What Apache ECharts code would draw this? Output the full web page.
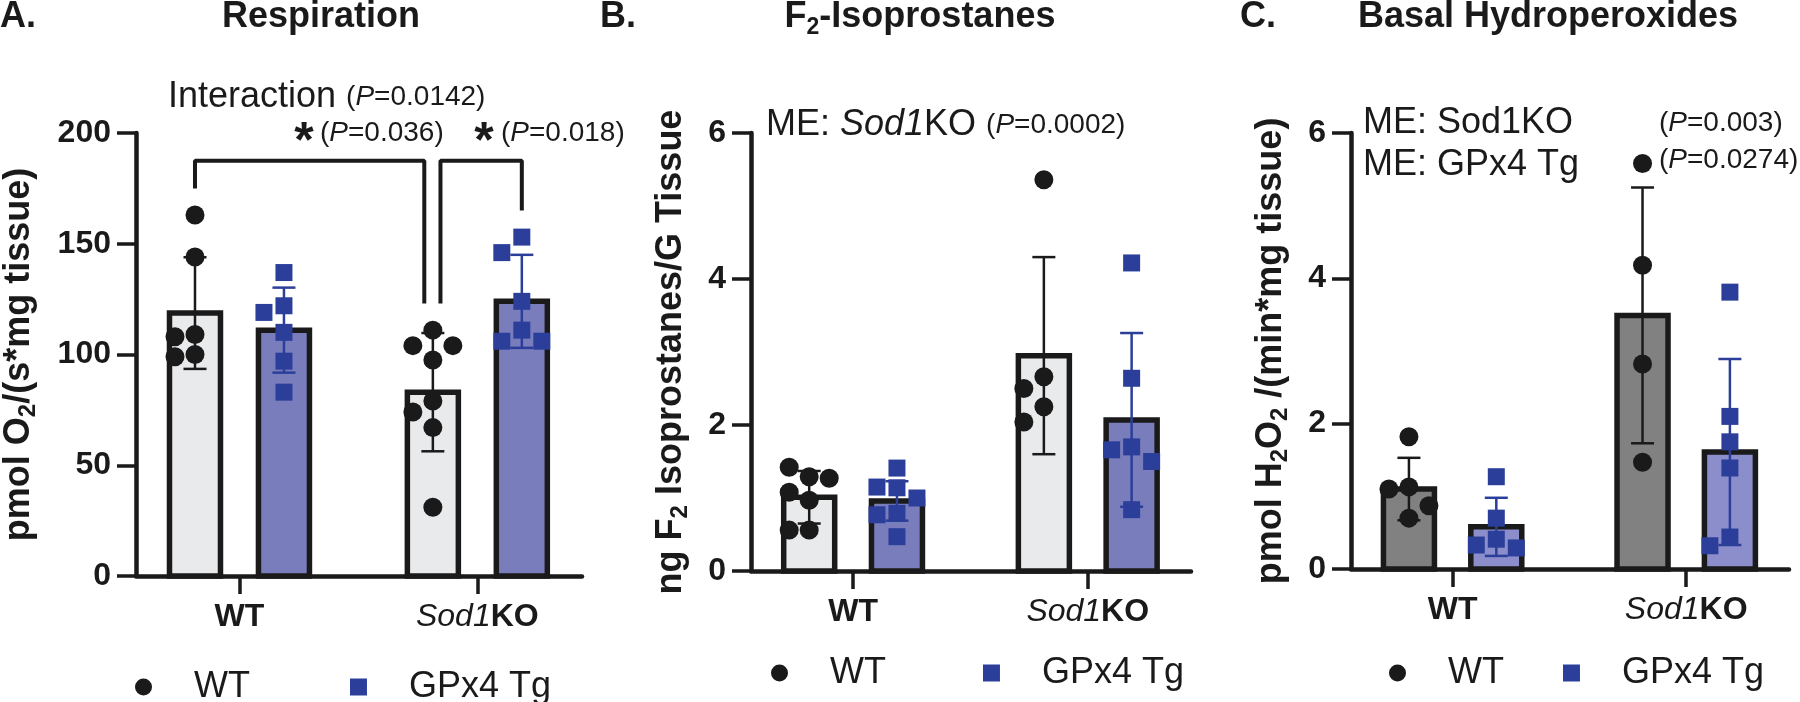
<!DOCTYPE html>
<html>
<head>
<meta charset="utf-8">
<script src="https://cdn.jsdelivr.net/npm/echarts@6/dist/echarts.min.js"></script>
<style>
  html, body { margin: 0; padding: 0; background: #fff; }
  #chart { width: 1800px; height: 702px; }
</style>
</head>
<body>
<div id="chart"></div>
<script>
// ---- data ----
var groups = ['WT', 'Sod1KO'];
var seriesNames = ['WT', 'GPx4 Tg'];

// A. Respiration, pmol O2/(s*mg tissue)
var respWtMean = [118.7, 83.0];
var respWtSd = [25.2, 26.7];
var respTgMean = [111.0, 124.0];
var respTgSd = [19.2, 21.0];
var respWtPts = [[163, 144, 109, 108, 100, 99], [111, 104, 104, 97.5, 79, 74, 67, 31]];
var respTgPts = [[137, 122, 119, 110, 97, 83], [153, 146, 124, 111, 106, 106]];

// B. F2-Isoprostanes, ng/G tissue
var isoWtMean = [1.01, 2.95];
var isoWtSd = [0.36, 1.35];
var isoTgMean = [0.96, 2.07];
var isoTgSd = [0.27, 1.19];
var isoWtPts = [[1.29, 1.42, 1.27, 1.08, 0.97, 0.56, 0.56], [5.36, 2.66, 2.5, 2.25, 2.04]];
var isoTgPts = [[1.41, 1.15, 1.14, 1.0, 0.79, 0.77, 0.47], [4.22, 2.64, 1.7, 1.66, 1.5, 0.84]];

// C. Basal hydroperoxides, pmol H2O2/(min*mg tissue)
var hpWtMean = [1.10, 3.49];
var hpWtSd = [0.43, 1.76];
var hpTgMean = [0.58, 1.61];
var hpTgSd = [0.40, 1.28];
var hpWtPts = [[1.82, 1.13, 1.1, 0.87, 0.7], [5.58, 4.18, 2.82, 1.47]];
var hpTgPts = [[1.27, 0.7, 0.41, 0.33, 0.29], [3.81, 2.1, 1.75, 1.39, 0.44, 0.32]];

// ---- layout / style ----
var FONT = '"Liberation Sans", Arial, Helvetica, sans-serif';
var INK = '#1a1a1a';
var BLUE = '#2b3f9a';
var X_MIN = -0.435, X_MAX = 1.44;
var BAR_OFF = 0.187;      // bar centre offset from category centre
var BAR_W = 51;           // inner bar width (border adds ~6)
var STEP_PX = 20;         // horizontal spread of points
var MIN_DIST = 19;

var panels = [{
    grid: { left: 136, top: 133, width: 446, height: 443 },
    yMax: 200, interval: 50,
    wtMean: respWtMean, wtSd: respWtSd, tgMean: respTgMean, tgSd: respTgSd,
    wtPts: respWtPts, tgPts: respTgPts,
    wtFill: '#e9eaec', tgFill: '#7a7dbc',
    name: '{b|pmol O}{sub|2}{b|/(s*mg tissue)}', nameGap: 96,
    legend: { left: 130, top: 664, gap: 100 }
}, {
    grid: { left: 751, top: 133, width: 440, height: 438 },
    yMax: 6, interval: 2,
    wtMean: isoWtMean, wtSd: isoWtSd, tgMean: isoTgMean, tgSd: isoTgSd,
    wtPts: isoWtPts, tgPts: isoTgPts,
    wtFill: '#e9eaec', tgFill: '#7a7dbc',
    name: '{b|ng F}{sub|2}{b| Isoprostanes/G Tissue}', nameGap: 59,
    legend: { left: 766, top: 650, gap: 97 }
}, {
    grid: { left: 1351, top: 133, width: 438, height: 436 },
    yMax: 6, interval: 2,
    wtMean: hpWtMean, wtSd: hpWtSd, tgMean: hpTgMean, tgSd: hpTgSd,
    wtPts: hpWtPts, tgPts: hpTgPts,
    wtFill: '#808180', tgFill: '#8b8ecb',
    name: '{b|pmol H}{sub|2}{b|O}{sub|2}{b| /(min*mg tissue)}', nameGap: 59,
    legend: { left: 1384, top: 650, gap: 59 }
}];

// simple beeswarm: spread points that would overlap at the same height
function swarm(vals, pxPerUnit) {
    var placed = [];
    return vals.map(function (v) {
        var slots = [0, -1, 1, -2, 2, -3, 3], s = 0;
        for (var k = 0; k < slots.length; k++) {
            s = slots[k];
            var ok = placed.every(function (p) {
                var dx = (s - p.s) * STEP_PX, dy = (v - p.v) * pxPerUnit;
                return Math.sqrt(dx * dx + dy * dy) >= MIN_DIST;
            });
            if (ok) break;
        }
        placed.push({ v: v, s: s });
        return s;
    });
}

function pointData(pts, off, p) {
    var pxY = p.grid.height / p.yMax;
    var pxX = p.grid.width / (X_MAX - X_MIN);
    var out = [];
    pts.forEach(function (vals, ci) {
        swarm(vals, pxY).forEach(function (s, j) {
            out.push([ci + off + s * STEP_PX / pxX, vals[j]]);
        });
    });
    return out;
}

function barRenderer(off, fill, errColor) {
    return function (params, api) {
        var x = api.value(0) + off;
        var m = api.value(1), sd = api.value(2);
        var top = api.coord([x, m]);
        var base = api.coord([x, 0]);
        var hi = api.coord([x, m + sd]);
        var lo = api.coord([x, Math.max(m - sd, 0)]);
        var cx = top[0];
        return {
            type: 'group',
            children: [{
                type: 'rect',
                shape: { x: cx - BAR_W / 2, y: top[1], width: BAR_W, height: base[1] - top[1] },
                style: { fill: fill, stroke: INK, lineWidth: 5.5 }
            }, {
                type: 'line',
                shape: { x1: cx, y1: hi[1], x2: cx, y2: lo[1] },
                style: { stroke: errColor, lineWidth: 2.5 }
            }, {
                type: 'line',
                shape: { x1: cx - 11.5, y1: hi[1], x2: cx + 11.5, y2: hi[1] },
                style: { stroke: errColor, lineWidth: 2.5 }
            }, {
                type: 'line',
                shape: { x1: cx - 11.5, y1: lo[1], x2: cx + 11.5, y2: lo[1] },
                style: { stroke: errColor, lineWidth: 2.5 }
            }]
        };
    };
}

var grids = [], xAxes = [], yAxes = [], series = [], legends = [];

panels.forEach(function (p, i) {
    grids.push(p.grid);
    xAxes.push({
        type: 'value', gridIndex: i, min: X_MIN, max: X_MAX,
        splitLine: { show: false },
        axisLine: { onZero: false, lineStyle: { color: INK, width: 4.5 } },
        axisTick: { show: true, customValues: [0, 1], length: 18, lineStyle: { color: INK, width: 3.5 } },
        axisLabel: {
            customValues: [0, 1], margin: 25,
            formatter: function (v) { return v === 0 ? '{b|WT}' : '{i|Sod1}{b|KO}'; },
            rich: {
                b: { fontFamily: FONT, fontSize: 32, fontWeight: 'bold', color: INK },
                i: { fontFamily: FONT, fontSize: 32, fontStyle: 'italic', color: INK }
            }
        }
    });
    yAxes.push({
        type: 'value', gridIndex: i, min: 0, max: p.yMax, interval: p.interval,
        splitLine: { show: false },
        axisLine: { show: true, onZero: false, lineStyle: { color: INK, width: 4.5 } },
        axisTick: { show: true, length: 19, lineStyle: { color: INK, width: 3.5 } },
        axisLabel: { margin: 25, fontFamily: FONT, fontSize: 32, fontWeight: 'bold', color: INK },
        name: p.name, nameLocation: 'middle', nameRotate: 90, nameGap: p.nameGap,
        nameTextStyle: {
            rich: {
                b: { fontFamily: FONT, fontSize: 36, fontWeight: 'bold', color: INK, lineHeight: 42 },
                sub: { fontFamily: FONT, fontSize: 24, fontWeight: 'bold', color: INK, verticalAlign: 'bottom' }
            }
        }
    });

    var wtBars = groups.map(function (g, k) { return [k, p.wtMean[k], p.wtSd[k]]; });
    var tgBars = groups.map(function (g, k) { return [k, p.tgMean[k], p.tgSd[k]]; });
    series.push({
        type: 'custom', name: 'WT mean', xAxisIndex: i, yAxisIndex: i, z: 2, silent: true,
        renderItem: barRenderer(-BAR_OFF, p.wtFill, INK), data: wtBars
    }, {
        type: 'custom', name: 'GPx4 Tg mean', xAxisIndex: i, yAxisIndex: i, z: 2, silent: true,
        renderItem: barRenderer(BAR_OFF, p.tgFill, BLUE), data: tgBars
    }, {
        type: 'scatter', name: seriesNames[0], xAxisIndex: i, yAxisIndex: i, z: 3,
        symbol: 'circle', symbolSize: 19, itemStyle: { color: INK, opacity: 1 },
        data: pointData(p.wtPts, -BAR_OFF, p)
    }, {
        type: 'scatter', name: seriesNames[1], xAxisIndex: i, yAxisIndex: i, z: 3,
        symbol: 'rect', symbolSize: 17, itemStyle: { color: BLUE, opacity: 1 },
        data: pointData(p.tgPts, BAR_OFF, p)
    });

    legends.push({
        data: seriesNames, left: p.legend.left, top: p.legend.top, orient: 'horizontal',
        itemWidth: 17, itemHeight: 17, itemGap: p.legend.gap, selectedMode: false,
        textStyle: { fontFamily: FONT, fontSize: 36, color: INK, padding: [0, 0, 0, 37], lineHeight: 36 }
    });
});

// significance brackets in panel A, built from the bar positions and the tallest marks
var BR_TOP = 187.5, BR_PAD = 12;
function legBase(pts, mean, sd) { return Math.max(Math.max.apply(null, pts), mean + sd) + BR_PAD; }
var brackets = [
    [[-BAR_OFF, legBase(respWtPts[0], respWtMean[0], respWtSd[0])], [-BAR_OFF, BR_TOP],
     [1 - BAR_OFF - 0.036, BR_TOP], [1 - BAR_OFF - 0.036, legBase(respWtPts[1], respWtMean[1], respWtSd[1])]],
    [[1 - BAR_OFF + 0.032, legBase(respWtPts[1], respWtMean[1], respWtSd[1])], [1 - BAR_OFF + 0.032, BR_TOP],
     [1 + BAR_OFF, BR_TOP], [1 + BAR_OFF, legBase(respTgPts[1], respTgMean[1], respTgSd[1])]]
];
brackets.forEach(function (b) {
    series.push({
        type: 'line', name: 'bracket', xAxisIndex: 0, yAxisIndex: 0, z: 4, silent: true,
        symbol: 'none', data: b, lineStyle: { color: INK, width: 4 }
    });
});

// ---- text annotations ----
var rich = {
    r: { fill: INK, fontFamily: FONT, fontSize: 36 },
    ri: { fill: INK, fontFamily: FONT, fontSize: 36, fontStyle: 'italic' },
    s: { fill: INK, fontFamily: FONT, fontSize: 28 },
    si: { fill: INK, fontFamily: FONT, fontSize: 28, fontStyle: 'italic' },
    h: { fill: INK, fontFamily: FONT, fontSize: 36, fontWeight: 'bold', lineHeight: 44 },
    hs: { fill: INK, fontFamily: FONT, fontSize: 23, fontWeight: 'bold', verticalAlign: 'bottom' },
    ast: { fill: INK, fontFamily: FONT, fontSize: 50, fontWeight: 'bold' }
};
function txt(x, y, text, align) {
    return {
        type: 'text', x: x, y: y, silent: true,
        style: {
            text: text, rich: rich, fill: INK, font: '36px ' + FONT,
            align: align || 'left', verticalAlign: 'middle',
            textAlign: align || 'left', textVerticalAlign: 'middle'
        }
    };
}
var graphics = [
    txt(0, 17, '{h|A.}'),
    txt(321, 17, '{h|Respiration}', 'center'),
    txt(168, 97, '{r|Interaction }{s|(}{si|P}{s|=0.0142)}'),
    txt(304, 143, '{ast|*}', 'center'),
    txt(320, 133, '{s|(}{si|P}{s|=0.036)}'),
    txt(484, 143, '{ast|*}', 'center'),
    txt(501, 133, '{s|(}{si|P}{s|=0.018)}'),

    txt(600, 17, '{h|B.}'),
    txt(920, 17, '{h|F}{hs|2}{h|-Isoprostanes}', 'center'),
    txt(766, 125, '{r|ME: }{ri|Sod1}{r|KO }{s|(}{si|P}{s|=0.0002)}'),

    txt(1240, 17, '{h|C.}'),
    txt(1548, 17, '{h|Basal Hydroperoxides}', 'center'),
    txt(1363, 123, '{r|ME: Sod1KO}'),
    txt(1363, 165, '{r|ME: GPx4 Tg}'),
    txt(1659, 123, '{s|(}{si|P}{s|=0.003)}'),
    txt(1659, 160, '{s|(}{si|P}{s|=0.0274)}')
];

var chart = echarts.init(document.getElementById('chart'));
chart.setOption({
    animation: false,
    backgroundColor: '#ffffff',
    grid: grids,
    xAxis: xAxes,
    yAxis: yAxes,
    legend: legends,
    series: series,
    graphic: graphics
});
</script>
</body>
</html>
